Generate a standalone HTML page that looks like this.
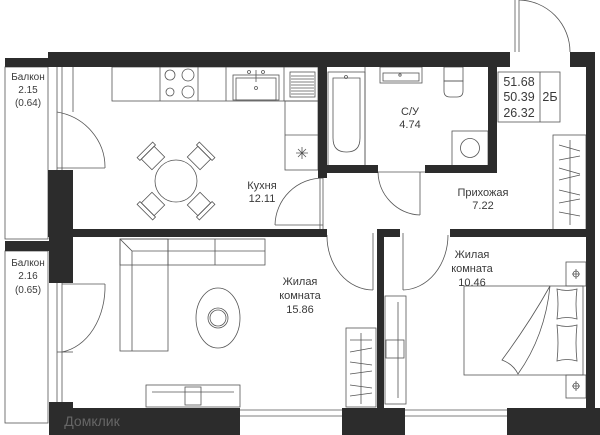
<!DOCTYPE html>
<html><head><meta charset="utf-8"><style>
html,body{margin:0;padding:0;background:#fff}
svg{display:block}
text{font-family:"Liberation Sans","DejaVu Sans",sans-serif;font-size:11px;fill:#3a3a3a;text-anchor:middle}
</style></head><body>
<svg width="600" height="435" viewBox="0 0 600 435" xmlns="http://www.w3.org/2000/svg">
<g fill="none" stroke="#555" stroke-width="0.8">
<rect x="5" y="67" width="43" height="172"/>
<rect x="5" y="251" width="43" height="172"/>
<line x1="57" y1="67" x2="57" y2="170"/><line x1="62" y1="67" x2="62" y2="170"/><line x1="73" y1="67" x2="73" y2="112"/>
<line x1="57" y1="168" x2="105" y2="168"/>
<path d="M57 112 A58 56 0 0 1 105 168"/>
<line x1="57" y1="283" x2="57" y2="402"/><line x1="62" y1="283" x2="62" y2="402"/>
<line x1="57" y1="352" x2="73" y2="352"/>
<path d="M105 284 A50 66 0 0 1 62 352"/><line x1="62" y1="284" x2="105" y2="284"/>
<rect x="112" y="67" width="206" height="34"/>
<line x1="160" y1="67" x2="160" y2="101"/><line x1="198" y1="67" x2="198" y2="101"/><line x1="226" y1="67" x2="226" y2="101"/><line x1="284" y1="67" x2="284" y2="101"/>
<circle cx="170" cy="75" r="5"/><circle cx="188" cy="75" r="6"/><circle cx="170" cy="92" r="4"/><circle cx="188" cy="92" r="6"/>
<rect x="233" y="75" width="46" height="25"/><rect x="236" y="78" width="40" height="22"/>
<line x1="256" y1="70" x2="256" y2="82"/><circle cx="256" cy="88" r="1.5"/><circle cx="249" cy="72" r="1.5"/><circle cx="263" cy="72" r="1.5"/>
<rect x="290" y="72" width="25" height="25"/>
<path d="M291 76h23M291 79h23M291 82h23M291 85h23M291 88h23M291 91h23M291 94h23"/>
<rect x="285" y="101" width="33" height="69"/><line x1="285" y1="135" x2="318" y2="135"/>
<path d="M296 153l12 0M302 147l0 12M298 149l8 8M306 149l-8 8"/>
<circle cx="176" cy="181" r="21"/>
<g transform="translate(176,181)">
<g transform="rotate(45)"><rect x="-9" y="-40" width="18" height="15"/><rect x="-11" y="-44" width="22" height="4"/></g>
<g transform="rotate(135)"><rect x="-9" y="-40" width="18" height="15"/><rect x="-11" y="-44" width="22" height="4"/></g>
<g transform="rotate(225)"><rect x="-9" y="-40" width="18" height="15"/><rect x="-11" y="-44" width="22" height="4"/></g>
<g transform="rotate(315)"><rect x="-9" y="-40" width="18" height="15"/><rect x="-11" y="-44" width="22" height="4"/></g>
</g>
<line x1="275" y1="225" x2="323" y2="225"/><path d="M275 225 A48 48 0 0 1 323 178"/>
<line x1="320" y1="178" x2="320" y2="230"/><line x1="323" y1="178" x2="323" y2="230"/>
<rect x="328" y="72" width="37" height="94"/>
<path d="M333 78h27v60q0 14-13 14h-1q-13 0-13-14z"/><circle cx="346" cy="77" r="1.5"/>
<line x1="365" y1="67" x2="365" y2="166"/>
<rect x="380" y="67" width="42" height="16"/><rect x="383" y="73" width="36" height="8"/><circle cx="400" cy="75" r="1.2"/>
<rect x="444" y="67" width="19" height="14"/><path d="M444 81h19v10q0 6-6 6h-7q-6 0-6-6z"/>
<rect x="452" y="131" width="36" height="35"/><circle cx="470" cy="148" r="9.5"/>
<line x1="378" y1="172" x2="425" y2="172"/><line x1="420" y1="172" x2="420" y2="215"/>
<path d="M378 172 A44 44 0 0 0 420 215"/>
<line x1="515" y1="0" x2="515" y2="52"/><line x1="519" y1="0" x2="519" y2="52"/>
<path d="M519 0 A52 52 0 0 1 570 52"/>
<rect x="498" y="72" width="62" height="50"/><line x1="540" y1="72" x2="540" y2="122"/>
<rect x="553" y="135" width="33" height="95"/>
<path d="M559 145l21 6M559 160l21 -4M559 168l21 6M559 180l21 -5M559 190l21 5M559 203l21 -4M559 212l21 4"/>
<line x1="570" y1="140" x2="570" y2="225"/>
<line x1="373" y1="233" x2="373" y2="290"/><path d="M327 235 A46 54 0 0 0 373 290"/>
<line x1="403" y1="233" x2="403" y2="290"/><path d="M403 290 A46 55 0 0 0 448 235"/>
<rect x="120" y="239" width="145" height="26"/>
<rect x="120" y="239" width="48" height="112"/>
<path d="M120 239l12 12h133M132 251v100M168 239v26M215 239v26"/>
<ellipse cx="218" cy="318" rx="22" ry="30"/><circle cx="218" cy="318" r="10"/><circle cx="218" cy="318" r="8"/>
<rect x="346" y="328" width="30" height="79"/>
<path d="M350 340l22 0M350 352l22 -4M350 362l22 3M350 374l22 -3M350 385l22 3M350 396l22 -3"/>
<line x1="361" y1="333" x2="361" y2="404"/>
<rect x="146" y="385" width="94" height="22"/>
<line x1="152" y1="392" x2="234" y2="392"/><rect x="185" y="387" width="16" height="18"/>
<rect x="385" y="296" width="21" height="108"/><line x1="398" y1="302" x2="398" y2="398"/>
<rect x="386" y="340" width="18" height="18"/>
<rect x="464" y="286" width="119" height="89"/>
<path d="M550 286q-5 50-32 88q-5-10-16-14q28-38 48-74"/>
<path d="M557 289q10 3 20 0q-2 15 0 30q-10-3-20 0q2-15 0-30zM557 325q10 3 20 0q-2 18 0 36q-10-3-20 0q2-18 0-36z"/>
<rect x="566" y="262" width="20" height="24"/><rect x="566" y="375" width="20" height="23"/>
<path d="M576 269v10M572 274h8M576 381v10M572 386h8"/>
<circle cx="576" cy="274" r="3"/><circle cx="576" cy="386" r="3"/>
<path d="M240 410h102M240 416h102M405 410h102M405 416h102"/>
</g>
<g fill="#2c2c2c">
<rect x="48" y="52" width="462" height="15"/>
<rect x="5" y="58" width="43" height="9"/>
<rect x="570" y="52" width="25" height="15"/>
<rect x="586" y="52" width="9" height="383"/>
<rect x="48" y="170" width="25" height="67"/>
<rect x="73" y="229" width="254" height="8"/>
<rect x="318" y="67" width="9" height="111"/>
<rect x="318" y="165" width="60" height="8"/>
<rect x="425" y="165" width="72" height="8"/>
<rect x="488" y="52" width="9" height="121"/>
<rect x="377" y="229" width="23" height="8"/>
<rect x="450" y="229" width="140" height="8"/>
<rect x="377" y="229" width="7" height="206"/>
<rect x="49" y="229" width="24" height="54"/>
<rect x="49" y="402" width="24" height="33"/>
<rect x="5" y="241" width="44" height="10"/>
<rect x="49" y="408" width="191" height="27"/>
<rect x="342" y="408" width="63" height="27"/>
<rect x="507" y="408" width="93" height="27"/>
</g>
<g style="font-size:10px">
<text x="28" y="80" style="font-size:10px">Балкон</text><text x="28" y="93" style="font-size:10px">2.15</text><text x="28" y="106" style="font-size:10px">(0.64)</text>
<text x="28" y="266" style="font-size:10px">Балкон</text><text x="28" y="279" style="font-size:10px">2.16</text><text x="28" y="293" style="font-size:10px">(0.65)</text>
</g>
<text x="262" y="189">Кухня</text><text x="262" y="202">12.11</text>
<text x="410" y="115">С/У</text><text x="410" y="128">4.74</text>
<text x="519" y="86" style="font-size:12.5px">51.68</text><text x="519" y="101" style="font-size:12.5px">50.39</text><text x="519" y="117" style="font-size:12.5px">26.32</text>
<text x="550" y="101" style="font-size:12.5px">2Б</text>
<text x="483" y="196">Прихожая</text><text x="483" y="209">7.22</text>
<text x="300" y="285">Жилая</text><text x="300" y="299">комната</text><text x="300" y="313">15.86</text>
<text x="472" y="258">Жилая</text><text x="472" y="272">комната</text><text x="472" y="286">10.46</text>
<text x="92" y="426" style="font-size:14px;fill:#666">Домклик</text>
</svg>
</body></html>
